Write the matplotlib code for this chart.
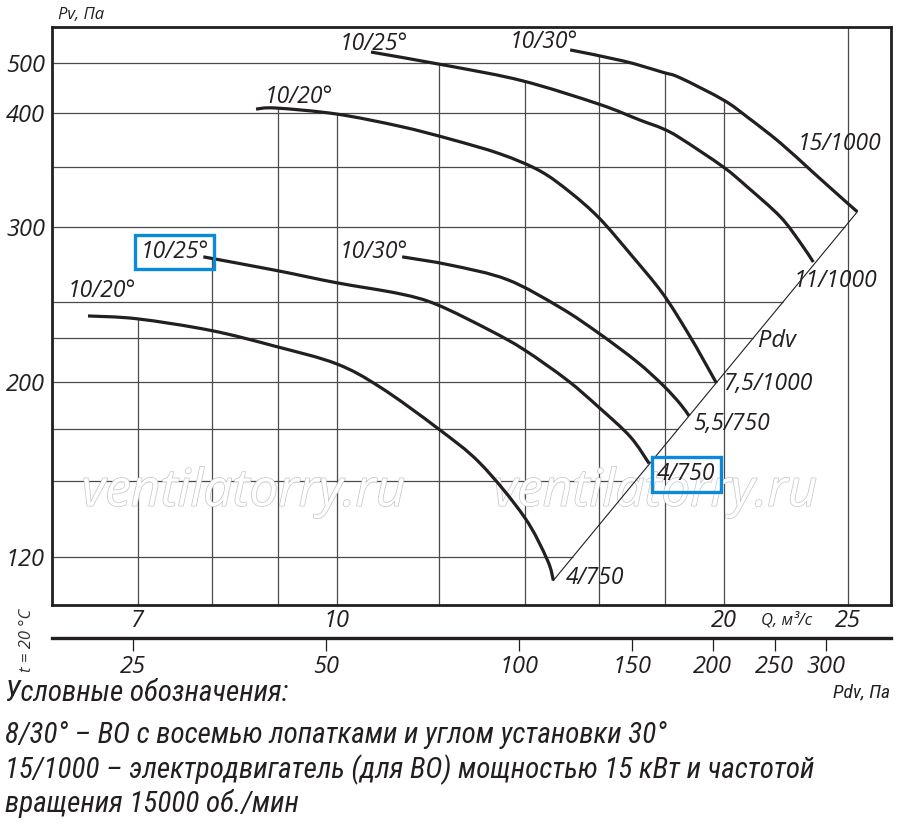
import numpy as np
import matplotlib
matplotlib.use("Agg")
import matplotlib.pyplot as plt
import matplotlib.patheffects as pe
from matplotlib import font_manager
from matplotlib.path import Path
from matplotlib.patches import PathPatch
from matplotlib.ticker import NullLocator

# ---------------------------------------------------------------- data
# Q, m3/s  and  Pv, Pa
q_low_20 = [6.40, 6.99, 7.98, 8.96, 9.99, 10.81, 11.97, 12.93, 13.99, 14.58, 14.74]
p_low_20 = [240, 238, 230, 220, 210, 197, 175.5, 158, 135, 119, 112]

q_low_25 = [7.87, 8.96, 9.99, 11.20, 11.97, 13.16, 13.99, 15.11, 16.00, 16.92, 17.50]
p_low_25 = [279, 270, 262, 255, 248, 230, 218, 201, 186, 171, 158]

q_low_30 = [11.24, 12.25, 13.57, 14.92, 16.00, 17.13, 17.95, 18.50, 18.80]
p_low_30 = [279, 273.5, 264, 246, 228, 211, 198, 188, 181.6]

q_up_20 = [8.65, 8.96, 9.99, 11.20, 12.25, 13.40, 14.39, 15.19, 16.00, 16.92, 17.92, 18.74, 19.28, 19.74]
p_up_20 = [407, 409, 399, 387, 375, 361.5, 346.5, 328, 307, 281, 255.5, 229, 212.5, 199.5]

q_up_25 = [10.63, 12.25, 13.96, 16.00, 17.22, 17.92, 18.50, 19.99, 20.87, 22.14, 22.94, 23.49]
p_up_25 = [525, 493, 461.5, 416, 393, 385, 376, 350, 332.5, 308, 289, 275.5]

q_up_30 = [15.19, 16.71, 17.92, 18.50, 19.99, 20.87, 22.14, 23.49, 24.97, 25.42]
p_up_30 = [530, 504.5, 480, 468, 424, 396, 371.5, 345, 319, 312]

blade_labels = ["10/20°", "10/25°", "10/30°", "10/20°", "10/25°", "10/30°"]
motor_labels = ["4/750", "4/750", "5,5/750", "7,5/1000", "11/1000", "15/1000"]
boxed = [False, True, False, False, False, False]

q_ticks = [7, 10, 20, 25]
q_grid = [7, 8, 9, 10, 12, 14, 16, 18, 20]
pv_ticks = [120, 200, 300, 400, 500]
pv_grid = [120, 150, 175, 200, 225, 250, 300, 350, 400, 500]
pdv_ticks = [25, 50, 100, 150, 200, 250, 300]
PDV_COEF = 0.52  # Pdv = k * Q^2

legend_lines = [
    "Условные обозначения:",
    "8/30° – ВО с восемью лопатками и углом установки 30°",
    "15/1000 – электродвигатель (для ВО) мощностью 15 кВт и частотой",
    "вращения 15000 об./мин",
]

# the printed Pv axis is not a clean log axis: spacing between its lines
PV_SCALE_VAL = [80, 104.2, 120, 150, 175, 200, 225, 250, 300, 350, 400, 500, 587, 700]
PV_SCALE_POS = [-90, 0, 48, 124, 176, 223, 267, 303, 378, 438, 492, 542, 578, 617]
_lv = np.log10(PV_SCALE_VAL)
QLIM = (6, 27)
PVLIM = (104.2, 587)


def pv_fwd(p):
    return np.interp(np.log10(np.clip(p, 1e-6, None)), _lv, PV_SCALE_POS)


def pv_inv(t):
    return 10 ** np.interp(t, PV_SCALE_POS, _lv)


# ---------------------------------------------------------------- fonts
names = {f.name for f in font_manager.fontManager.ttflist}
NARROW = next((n for n in ["Liberation Sans Narrow", "Roboto Condensed"] if n in names), "DejaVu Sans")
LAB = ["Open Sans", "DejaVu Sans"]
NAR = [NARROW, "DejaVu Sans"]
INK = "#231f20"
GRID = "#4a4a4a"

fig = plt.figure(figsize=(9, 8.3), dpi=100)
ax = fig.add_axes([52 / 900, 1 - 605 / 830, 839 / 900, 578 / 830])
ax.set_xscale("log")
ax.set_yscale("function", functions=(pv_fwd, pv_inv))
ax.set_xlim(*QLIM)
ax.set_ylim(*PVLIM)

curves = [
    (q_low_20, p_low_20), (q_low_25, p_low_25), (q_low_30, p_low_30),
    (q_up_20, p_up_20), (q_up_25, p_up_25), (q_up_30, p_up_30),
]

# scale factors so the spline is built in (roughly) screen proportions
pos = ax.get_position()
kx = fig.get_figwidth() * fig.dpi * pos.width / np.log10(QLIM[1] / QLIM[0])
ky = fig.get_figheight() * fig.dpi * pos.height / (pv_fwd(PVLIM[1]) - pv_fwd(PVLIM[0]))


def smooth_path(qs, ps):
    pts = np.c_[np.log10(qs) * kx, pv_fwd(np.asarray(ps, float)) * ky]
    verts, codes = [pts[0]], [Path.MOVETO]
    n = len(pts)
    for i in range(n - 1):
        p0 = pts[max(i - 1, 0)]
        p1, p2 = pts[i], pts[i + 1]
        p3 = pts[min(i + 2, n - 1)]
        verts += [p1 + (p2 - p0) / 6, p2 - (p3 - p1) / 6, p2]
        codes += [Path.CURVE4] * 3
    v = np.array(verts)
    return Path(np.c_[10 ** (v[:, 0] / kx), pv_inv(v[:, 1] / ky)], codes)


# grid: horizontal lines stop at outer boundary (top curve + Pdv line)
bound_lq = np.log10(np.r_[q_up_30, q_low_20[-1]])
bound_t = pv_fwd(np.r_[p_up_30, p_low_20[-1]])
for v in pv_grid:
    lq = np.interp(pv_fwd(v), bound_t[::-1], bound_lq[::-1])
    ax.plot([QLIM[0], 10 ** lq], [v, v], color=GRID, lw=0.9, zorder=1, solid_capstyle="butt")

# vertical lines rise up to the highest curve
for q in q_grid:
    tops = [np.interp(np.log10(q), np.log10(qs), pv_fwd(ps))
            for qs, ps in curves if qs[0] <= q <= qs[-1]]
    top = pv_inv(max(tops)) if tops else PVLIM[1]
    ax.plot([q, q], [PVLIM[0], top], color=GRID, lw=0.9, zorder=1, solid_capstyle="butt")
ax.axvline(25, color=GRID, lw=0.9, zorder=1)

# watermark
for xw in (0.228, 0.719):
    ax.text(xw, 0.195, "ventilatorry.ru", transform=ax.transAxes, ha="center", va="center",
            fontsize=37, family=LAB, style="italic", color="white", zorder=1.5,
            path_effects=[pe.Stroke(linewidth=1.0, foreground="#c4c4c4"), pe.Normal()])

# curves
for qs, ps in curves:
    ax.add_patch(PathPatch(smooth_path(qs, ps), fill=False, ec=INK, lw=2.3, zorder=3,
                           capstyle="butt", joinstyle="round"))

# Pdv line through curve end points
ax.plot([q_low_20[-1], q_up_30[-1]], [p_low_20[-1], p_up_30[-1]], color=INK, lw=0.8, zorder=2)

start_off = [(-20, 19), (-63, -1), (-62, -1), (9, 6), (-31, 2), (-60, 2)]
end_off = [(12, -4), (8, -17), (4, -14), (7, -7), (-20, -25), (-60, 62)]
box_kw = dict(boxstyle="square,pad=0.22", fc="none", ec="#0b8ad9", lw=2.4)
for (qs, ps), bl, ml, bx, so, eo in zip(curves, blade_labels, motor_labels, boxed, start_off, end_off):
    ax.annotate(bl, (qs[0], ps[0]), xytext=so, textcoords="offset pixels", ha="left",
                va="baseline", fontsize=16.5, family=LAB, style="italic", color=INK,
                bbox=box_kw if bx else None, zorder=4)
    ax.annotate(ml, (qs[-1], ps[-1]), xytext=eo, textcoords="offset pixels", ha="left",
                va="baseline", fontsize=16.5, family=LAB, style="italic", color=INK,
                bbox=box_kw if (bx and ml == "4/750") else None, zorder=4)
ax.text(0.8415, 0.4464, "Pdv", transform=ax.transAxes, ha="left", va="baseline",
        fontsize=17, family=LAB, style="italic", color=INK)

# axes frame and ticks
for s in ax.spines.values():
    s.set_linewidth(2.0)
    s.set_color(INK)
ax.set_xticks(q_ticks)
ax.set_xticklabels([str(t) for t in q_ticks], family=LAB, style="italic",
                   fontsize=17, weight="normal", color=INK)
ax.xaxis.set_minor_locator(NullLocator())
ax.set_yticks(pv_ticks)
ax.set_yticklabels([str(t) for t in pv_ticks], family=LAB, style="italic",
                   fontsize=17, color=INK)
ax.yaxis.set_minor_locator(NullLocator())
ax.tick_params(axis="x", length=0, pad=3)
ax.tick_params(axis="y", length=0, pad=5)

# Pdv scale below Q axis
sec = ax.secondary_xaxis(-0.057, functions=(lambda q: PDV_COEF * q ** 2,
                                            lambda p: np.sqrt(np.clip(p, 0, None) / PDV_COEF)))
sec.set_xticks(pdv_ticks)
sec.set_xticklabels([str(t) for t in pdv_ticks], family=LAB, style="italic",
                    fontsize=17, color=INK)
sec.xaxis.set_minor_locator(NullLocator())
sec.spines["bottom"].set_linewidth(2.4)
sec.spines["bottom"].set_color(INK)
sec.tick_params(axis="x", direction="out", length=9, width=0.9, pad=3, colors=INK)


def ftext(x, y, s, **kw):
    fig.text(x / 900, 1 - y / 830, s, **kw)


ftext(58, 15, "Pv, Па", ha="left", va="center", fontsize=12, family=LAB, style="italic", color=INK)
ftext(787, 620, "Q, м³/с", ha="center", va="center", fontsize=12, family=LAB, style="italic", color=INK)
ftext(890, 692, "Pdv, Па", ha="right", va="center", fontsize=14, family=NAR,
      style="italic", color=INK)
ftext(27, 640, "t = 20 °C", ha="center", va="center", rotation=90, fontsize=12, family=LAB,
      style="italic", color="#333333")
for yy, line in zip([693, 735, 770, 803], legend_lines):
    ftext(5, yy, line, ha="left", va="center", fontsize=21, family=NAR,
          style="italic", color=INK)

fig.savefig("out.png", dpi=100)
